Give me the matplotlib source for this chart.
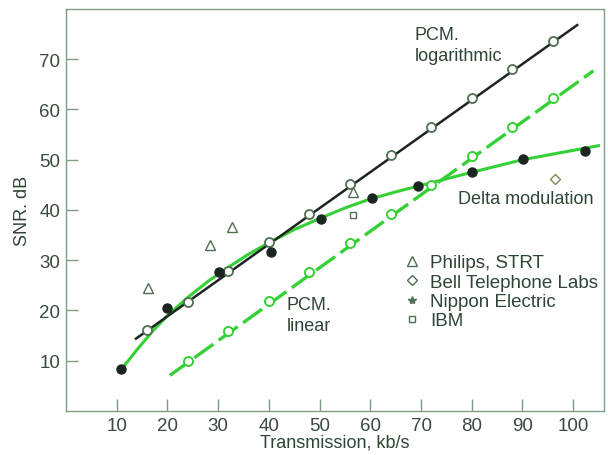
import numpy as np
import matplotlib.pyplot as plt
from matplotlib.lines import Line2D

plt.rcParams['font.family'] = ['Liberation Sans', 'DejaVu Sans']

# PCM logarithmic (open circles on dark line)
pcm_log_x = [16, 24, 32, 40, 48, 56, 64, 72, 80, 88, 96]
pcm_log_y = [16.1, 21.7, 27.9, 33.7, 39.2, 45.2, 51.0, 56.6, 62.3, 68.0, 73.7]
pcm_log_line_x = [13.8, 100.8]
pcm_log_line_y = [14.4, 76.8]

# PCM linear (open circles on dashed green line)
pcm_lin_x = [24, 32, 40, 48, 56, 64, 72, 80, 88, 96]
pcm_lin_y = [10.0, 16.0, 21.9, 27.7, 33.4, 39.2, 45.0, 50.8, 56.6, 62.3]
pcm_lin_line_x = [20.5, 104.0]
pcm_lin_line_y = [7.1, 67.7]

# Delta modulation (filled dots) and its fitted curve
delta_x = [10.8, 19.9, 30.2, 40.5, 50.2, 60.4, 69.5, 80.1, 90.2, 102.4]
delta_y = [8.4, 20.4, 27.7, 31.7, 38.3, 42.4, 44.8, 47.6, 50.2, 51.8]
delta_curve_x = [11, 14, 17, 20, 24, 28, 32, 36, 40, 45, 50, 55, 60, 65, 70, 80, 90, 105]
delta_curve_y = [8.4, 12.2, 15.8, 19.0, 22.6, 25.8, 28.6, 31.2, 33.5, 36.1, 38.3,
                 40.4, 42.2, 43.6, 44.9, 47.5, 50.0, 52.8]

# other labs
philips_x = [16.2, 28.4, 32.7, 56.5]
philips_y = [24.5, 33.0, 36.7, 43.6]
bell_x = [96.5]
bell_y = [46.2]
ibm_x = [56.5]
ibm_y = [39.1]

xticks = [10, 20, 30, 40, 50, 60, 70, 80, 90, 100]
yticks = [10, 20, 30, 40, 50, 60, 70]

green = '#35d035'
dark = '#1c2620'
axcol = '#7f9c84'
txtcol = '#2f4534'
mkcol = '#4f6e52'

fig = plt.figure(figsize=(6.08, 4.56), dpi=100)
ax = fig.add_axes([0.1086, 0.0965, 0.885, 0.8816])

ax.plot(pcm_log_line_x, pcm_log_line_y, color=dark, lw=1.8, zorder=3)
ax.plot(pcm_lin_line_x, pcm_lin_line_y, color=green, lw=2.4, dashes=(7, 2), zorder=2)
ax.plot(delta_curve_x, delta_curve_y, color=green, lw=2.2, zorder=2)

ax.plot(pcm_log_x, pcm_log_y, 'o', ms=6.5, mfc='white', mec=mkcol, mew=1.3, zorder=4)
ax.plot(pcm_lin_x, pcm_lin_y, 'o', ms=6.5, mfc='white', mec=green, mew=1.4, zorder=4)
ax.plot(delta_x, delta_y, 'o', ms=6.5, color=dark, zorder=5)

ax.plot(philips_x, philips_y, '^', ms=7.5, mfc='none', mec=mkcol, mew=1.0, ls='none')
ax.plot(bell_x, bell_y, 'D', ms=5, mfc='none', mec='#7a8a55', mew=1.0, ls='none')
ax.plot(ibm_x, ibm_y, 's', ms=4.5, mfc='none', mec=mkcol, mew=1.0, ls='none')

ax.text(68.7, 76.6, 'PCM.\nlogarithmic', fontsize=13, color=txtcol, va='top',
        linespacing=1.3)
ax.text(77.2, 41.3, 'Delta modulation', fontsize=13, color=txtcol, va='baseline')
ax.text(43.5, 22.8, 'PCM.\nlinear', fontsize=13, color=txtcol, va='top',
        linespacing=1.3)

handles = [
    Line2D([], [], marker='^', ls='none', ms=7, mfc='none', mec=mkcol, mew=1.0),
    Line2D([], [], marker='D', ls='none', ms=5, mfc='none', mec=mkcol, mew=1.0),
    Line2D([], [], marker='*', ls='none', ms=6, color=mkcol),
    Line2D([], [], marker='s', ls='none', ms=4.5, mfc='none', mec=mkcol, mew=1.0),
]
labels = ['Philips, STRT', 'Bell Telephone Labs', 'Nippon Electric', 'IBM']
leg = ax.legend(handles, labels, loc='upper left', bbox_to_anchor=(0.626, 0.39),
                frameon=False, handlelength=1.0, handletextpad=0.45,
                labelspacing=0.12, borderpad=0, borderaxespad=0, fontsize=13.5)
for t in leg.get_texts():
    t.set_color(txtcol)

ax.set_xlim(0, 106.1)
ax.set_ylim(0, 80)
ax.set_xticks(xticks)
ax.set_yticks(yticks)
ax.tick_params(direction='in', length=8.5, width=1.0, color=axcol,
               labelsize=13.5, labelcolor='#3a4a3c')
ax.tick_params(axis='y', pad=4)
ax.tick_params(axis='x', pad=4)
for s in ax.spines.values():
    s.set_color(axcol)
    s.set_linewidth(1.0)

ax.set_xlabel('Transmission, kb/s', fontsize=13, color=txtcol, labelpad=0)
ax.set_ylabel('SNR. dB', fontsize=13, color=txtcol, labelpad=6)

fig.savefig('out.png', dpi=100)
